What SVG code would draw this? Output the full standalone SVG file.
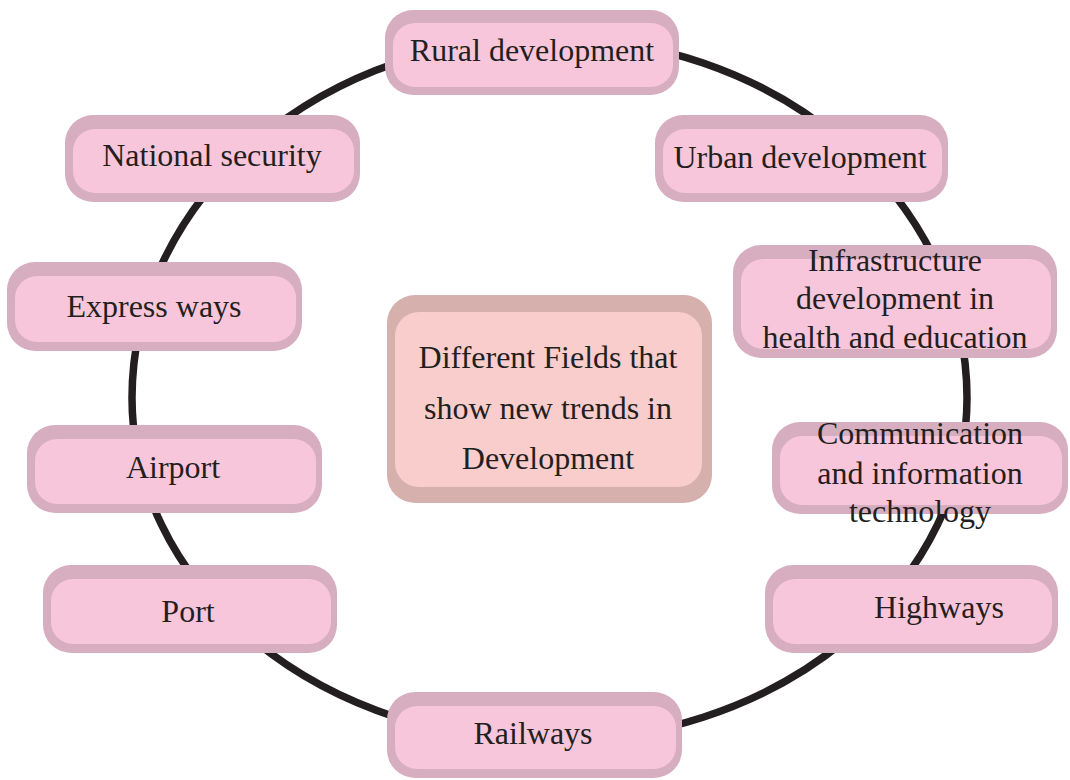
<svg xmlns="http://www.w3.org/2000/svg" width="1070" height="780" viewBox="0 0 1070 780">
<style>
.o{fill:#d7aec0}
.i{fill:#f8c6db}
.co{fill:#d6b0ad}
.ci{fill:#f9cdcb}
.t{font-family:"Liberation Serif","Times New Roman",serif;font-size:32px;fill:#231f20;text-anchor:middle}
</style>
<rect width="1070" height="780" fill="#ffffff"/>
<g id="connectors">
<path d="M132,398 A417,360 0 0 1 967,398 A417,343 0 0 1 132,398 Z" fill="none" stroke="#231f20" stroke-width="7.5"/>
</g>
<g id="center">
<rect class="co" x="387" y="295" width="325" height="208" rx="28"/>
<rect class="ci" x="395" y="312" width="307" height="175" rx="24"/>
<text class="t" x="548" y="368">Different Fields that</text>
<text class="t" x="548" y="419">show new trends in</text>
<text class="t" x="548" y="469">Development</text>
</g>
<g id="rural">
<rect class="o" x="385" y="10" width="294" height="85" rx="28"/>
<rect class="i" x="393" y="23" width="280" height="64" rx="22"/>
<text class="t" x="532" y="61">Rural development</text>
</g>
<g id="national">
<rect class="o" x="65" y="115" width="295" height="87" rx="28"/>
<rect class="i" x="73" y="129" width="281" height="64" rx="22"/>
<text class="t" x="212" y="166">National security</text>
</g>
<g id="urban">
<rect class="o" x="655" y="115" width="293" height="87" rx="28"/>
<rect class="i" x="663" y="129" width="279" height="64" rx="22"/>
<text class="t" x="800" y="168">Urban development</text>
</g>
<g id="express">
<rect class="o" x="7" y="262" width="295" height="89" rx="28"/>
<rect class="i" x="15" y="276" width="281" height="66" rx="22"/>
<text class="t" x="154" y="317">Express ways</text>
</g>
<g id="infrastructure">
<rect class="o" x="733" y="245" width="324" height="113" rx="28"/>
<rect class="i" x="741" y="259" width="310" height="90" rx="22"/>
<text class="t" x="895" y="271">Infrastructure</text>
<text class="t" x="895" y="309">development in</text>
<text class="t" x="895" y="348">health and education</text>
</g>
<g id="airport">
<rect class="o" x="27" y="425" width="295" height="88" rx="28"/>
<rect class="i" x="35" y="439" width="281" height="65" rx="22"/>
<text class="t" x="173" y="478">Airport</text>
</g>
<g id="communication">
<rect class="o" x="772" y="422" width="296" height="92" rx="28"/>
<rect class="i" x="780" y="436" width="282" height="69" rx="22"/>
<text class="t" x="920" y="444">Communication</text>
<text class="t" x="920" y="484">and information</text>
<text class="t" x="920" y="522">technology</text>
</g>
<g id="port">
<rect class="o" x="43" y="565" width="294" height="88" rx="28"/>
<rect class="i" x="51" y="579" width="280" height="65" rx="22"/>
<text class="t" x="188" y="622">Port</text>
</g>
<g id="highways">
<rect class="o" x="765" y="565" width="293" height="88" rx="28"/>
<rect class="i" x="773" y="579" width="279" height="65" rx="22"/>
<text class="t" x="939" y="618">Highways</text>
</g>
<g id="railways">
<rect class="o" x="387" y="692" width="295" height="86" rx="28"/>
<rect class="i" x="395" y="706" width="281" height="63" rx="22"/>
<text class="t" x="533" y="744">Railways</text>
</g>
</svg>
